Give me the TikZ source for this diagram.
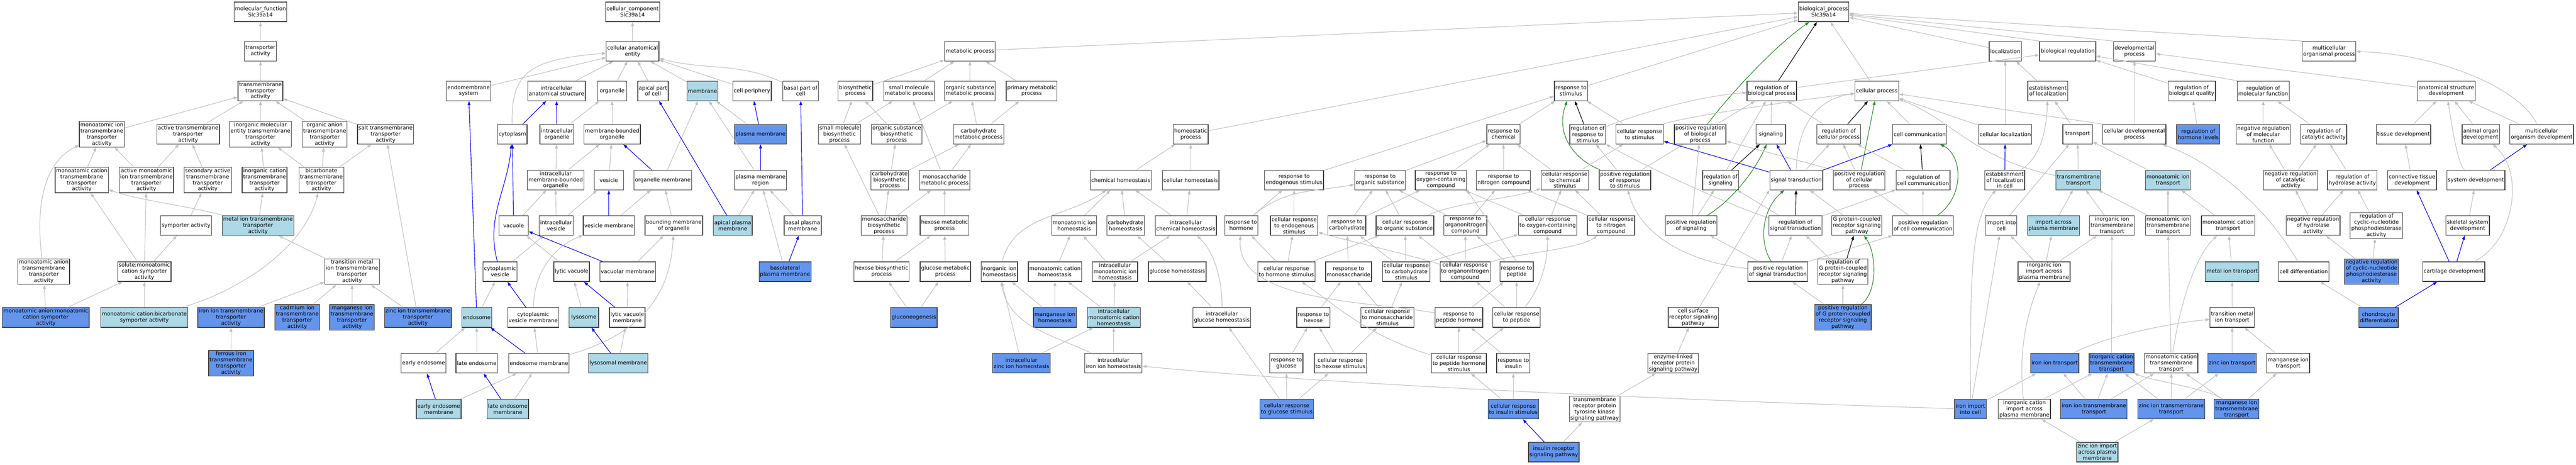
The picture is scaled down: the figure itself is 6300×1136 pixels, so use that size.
\documentclass[tikz,border=0pt]{standalone}
\usepackage{fontspec}
\setmainfont{DejaVu Sans}
\usetikzlibrary{arrows.meta}
\definecolor{hitblue}{RGB}{173,216,230}
\definecolor{directblue}{RGB}{100,149,237}
\definecolor{edgegray}{RGB}{192,192,192}
\definecolor{posgreen}{RGB}{34,139,34}
\newcommand{\gofont}{\fontsize{13}{15}\selectfont}
\tikzset{
    term/.style={draw=black!75, line width=1.6pt, fill=white, align=center, font=\gofont,
        inner xsep=2.5pt, inner ysep=2.5pt, minimum width=72pt, minimum height=48pt},
    hit/.style={term, fill=hitblue},
    direct/.style={term, fill=directblue},
    isa/.style={draw=edgegray, line width=1.4pt, -{Triangle[length=10pt,width=7pt]}},
    partof/.style={isa, draw=blue},
    regulates/.style={isa, draw=black},
    posreg/.style={isa, draw=posgreen}
}
\begin{document}
\begin{tikzpicture}[x=1pt,y=1pt]
    \path[fill=white] (0,0) rectangle (6300,-1136);
    \useasboundingbox (0,0) rectangle (6300,-1136);

    \node (mf)       at (637,-29)   [term] {molecular\_function\\Slc39a14};
    \node (ta)       at (637,-125)  [term] {transporter\\activity};
    \node (tta)      at (637,-222)  [term] {transmembrane\\transporter\\activity};
    \node (moita)    at (249,-328)  [term] {monoatomic ion\\transmembrane\\transporter\\activity};
    \node (acta)     at (460,-328)  [term] {active transmembrane\\transporter\\activity};
    \node (imeta)    at (637,-328)  [term] {inorganic molecular\\entity transmembrane\\transporter\\activity};
    \node (oata)     at (794,-328)  [term] {organic anion\\transmembrane\\transporter\\activity};
    \node (salta)    at (943,-328)  [term] {salt transmembrane\\transporter\\activity};
    \node (mocta)    at (200,-440)  [term] {monoatomic cation\\transmembrane\\transporter\\activity};
    \node (amita)    at (358,-440)  [term] {active monoatomic\\ion transmembrane\\transporter\\activity};
    \node (sata)     at (508,-440)  [term] {secondary active\\transmembrane\\transporter\\activity};
    \node (icta)     at (647,-440)  [term] {inorganic cation\\transmembrane\\transporter\\activity};
    \node (bicta)    at (786,-440)  [term] {bicarbonate\\transmembrane\\transporter\\activity};
    \node (sym)      at (455,-551)  [term] {symporter activity};
    \node (metta)    at (631,-551)  [hit] {metal ion transmembrane\\transporter\\activity};
    \node (moata)    at (107,-664)  [term] {monoatomic anion\\transmembrane\\transporter\\activity};
    \node (solsym)   at (353,-664)  [term] {solute:monoatomic\\cation symporter\\activity};
    \node (tmita)    at (861,-664)  [term] {transition metal\\ion transmembrane\\transporter\\activity};
    \node (anionsym) at (112,-776)  [direct] {monoatomic anion:monoatomic\\cation symporter\\activity};
    \node (bicsym)   at (353,-776)  [hit] {monoatomic cation:bicarbonate\\symporter activity};
    \node (irta)     at (565,-776)  [direct] {iron ion transmembrane\\transporter\\activity};
    \node (cdta)     at (727,-776)  [direct] {cadmium ion\\transmembrane\\transporter\\activity};
    \node (mnta)     at (861,-776)  [direct] {manganese ion\\transmembrane\\transporter\\activity};
    \node (znta)     at (1022,-776) [direct] {zinc ion transmembrane\\transporter\\activity};
    \node (feta)     at (565,-888)  [direct] {ferrous iron\\transmembrane\\transporter\\activity};

    \node (cc)     at (1547,-29)  [term] {cellular\_component\\Slc39a14};
    \node (cae)    at (1547,-125) [term] {cellular anatomical\\entity};
    \node (ems)    at (1146,-222) [term] {endomembrane\\system};
    \node (ias)    at (1361,-222) [term] {intracellular\\anatomical structure};
    \node (org)    at (1497,-222) [term] {organelle};
    \node (apc)    at (1597,-222) [term] {apical part\\of cell};
    \node (mem)    at (1718,-222) [hit] {membrane};
    \node (cper)   at (1839,-222) [term] {cell periphery};
    \node (bpc)    at (1958,-222) [term] {basal part of\\cell};
    \node (cyto)   at (1253,-328) [term] {cytoplasm};
    \node (iorg)   at (1362,-328) [term] {intracellular\\organelle};
    \node (mbo)    at (1497,-328) [term] {membrane-bounded\\organelle};
    \node (pm)     at (1860,-328) [direct] {plasma membrane};
    \node (imbo)   at (1359,-440) [term] {intracellular\\membrane-bounded\\organelle};
    \node (ves)    at (1489,-440) [term] {vesicle};
    \node (orgm)   at (1621,-440) [term] {organelle membrane};
    \node (pmr)    at (1860,-440) [term] {plasma membrane\\region};
    \node (vac)    at (1256,-551) [term] {vacuole};
    \node (ives)   at (1360,-551) [term] {intracellular\\vesicle};
    \node (vesm)   at (1489,-551) [term] {vesicle membrane};
    \node (bmo)    at (1648,-551) [term] {bounding membrane\\of organelle};
    \node (apm)    at (1792,-551) [hit] {apical plasma\\membrane};
    \node (bpm)    at (1963,-551) [term] {basal plasma\\membrane};
    \node (cves)   at (1223,-664) [term] {cytoplasmic\\vesicle};
    \node (lvac)   at (1398,-664) [term] {lytic vacuole};
    \node (vacm)   at (1535,-664) [term] {vacuolar membrane};
    \node (blpm)   at (1920,-664) [direct] {basolateral\\plasma membrane};
    \node (endo)   at (1166,-776) [hit] {endosome};
    \node (cvesm)  at (1304,-776) [term] {cytoplasmic\\vesicle membrane};
    \node (lyso)   at (1428,-776) [hit] {lysosome};
    \node (lvacm)  at (1534,-776) [term] {lytic vacuole\\membrane};
    \node (eendo)  at (1036,-888) [term] {early endosome};
    \node (lendo)  at (1166,-888) [term] {late endosome};
    \node (endom)  at (1318,-888) [term] {endosome membrane};
    \node (lysom)  at (1512,-888) [hit] {lysosomal membrane};
    \node (eendom) at (1073,-1000) [hit] {early endosome\\membrane};
    \node (lendom) at (1242,-1000) [hit] {late endosome\\membrane};

    \node (bp)     at (4460,-29)  [term] {biological\_process\\Slc39a14};
    \node (metp)   at (2372,-125) [term] {metabolic process};
    \node (loc)    at (4904,-125) [term] {localization};
    \node (breg)   at (5057,-125) [term] {biological regulation};
    \node (devp)   at (5220,-125) [term] {developmental\\process};
    \node (mop)    at (5696,-125) [term] {multicellular\\organismal process};

    \node (biop)   at (2092,-222) [term] {biosynthetic\\process};
    \node (smmp)   at (2223,-222) [term] {small molecule\\metabolic process};
    \node (osmp)   at (2372,-222) [term] {organic substance\\metabolic process};
    \node (pmp)    at (2523,-222) [term] {primary metabolic\\process};
    \node (rstim)  at (3842,-222) [term] {response to\\stimulus};
    \node (rbp)    at (4333,-222) [term] {regulation of\\biological process};
    \node (cp)     at (4590,-222) [term] {cellular process};
    \node (eloc)   at (5008,-222) [term] {establishment\\of localization};
    \node (rbq)    at (5360,-222) [term] {regulation of\\biological quality};
    \node (rmf)    at (5535,-222) [term] {regulation of\\molecular function};
    \node (asd)    at (5983,-222) [term] {anatomical structure\\development};

    \node (smbp)   at (2053,-328) [term] {small molecule\\biosynthetic\\process};
    \node (osbp)   at (2193,-328) [term] {organic substance\\biosynthetic\\process};
    \node (cmp)    at (2393,-328) [term] {carbohydrate\\metabolic process};
    \node (homp)   at (2912,-328) [term] {homeostatic\\process};
    \node (rchem)  at (3677,-328) [term] {response to\\chemical};
    \node (rrs)    at (3883,-328) [term] {regulation of\\response to\\stimulus};
    \node (crs)    at (4010,-328) [term] {cellular response\\to stimulus};
    \node (prbp)   at (4158,-328) [term] {positive regulation\\of biological\\process};
    \node (sig)    at (4331,-328) [term] {signaling};
    \node (rcp)    at (4497,-328) [term] {regulation of\\cellular process};
    \node (ccom)   at (4695,-328) [term] {cell communication};
    \node (cloc)   at (4904,-328) [term] {cellular localization};
    \node (trans)  at (5081,-328) [term] {transport};
    \node (cdp)    at (5220,-328) [term] {cellular developmental\\process};
    \node (rhl)    at (5376,-328) [direct] {regulation of\\hormone levels};
    \node (nrmf)   at (5535,-328) [term] {negative regulation\\of molecular\\function};
    \node (rca)    at (5683,-328) [term] {regulation of\\catalytic activity};
    \node (tdev)   at (5878,-328) [term] {tissue development};
    \node (aod)    at (6067,-328) [term] {animal organ\\development};
    \node (mod)    at (6216,-328) [term] {multicellular\\organism development};

    \node (cbp)    at (2176,-440) [term] {carbohydrate\\biosynthetic\\process};
    \node (msmp)   at (2310,-440) [term] {monosaccharide\\metabolic process};
    \node (chom)   at (2741,-440) [term] {chemical homeostasis};
    \node (chomc)  at (2912,-440) [term] {cellular homeostasis};
    \node (res)    at (3165,-440) [term] {response to\\endogenous stimulus};
    \node (ros)    at (3375,-440) [term] {response to\\organic substance};
    \node (roc)    at (3524,-440) [term] {response to\\oxygen-containing\\compound};
    \node (rnc)    at (3677,-440) [term] {response to\\nitrogen compound};
    \node (crcs)   at (3827,-440) [term] {cellular response\\to chemical\\stimulus};
    \node (prrs)   at (3974,-440) [term] {positive regulation\\of response\\to stimulus};
    \node (rsig)   at (4208,-440) [term] {regulation of\\signaling};
    \node (st)     at (4393,-440) [term] {signal transduction};
    \node (prcp)   at (4547,-440) [term] {positive regulation\\of cellular\\process};
    \node (rcc)    at (4703,-440) [term] {regulation of\\cell communication};
    \node (elc)    at (4903,-440) [term] {establishment\\of localization\\in cell};
    \node (tmt)    at (5083,-440) [hit] {transmembrane\\transport};
    \node (moit)   at (5302,-440) [hit] {monoatomic ion\\transport};
    \node (nrca)   at (5602,-440) [term] {negative regulation\\of catalytic\\activity};
    \node (rha)    at (5753,-440) [term] {regulation of\\hydrolase activity};
    \node (ctd)    at (5899,-440) [term] {connective tissue\\development};
    \node (sdev)   at (6055,-440) [term] {system development};

    \node (msbp)   at (2162,-551) [term] {monosaccharide\\biosynthetic\\process};
    \node (hmp)    at (2310,-551) [term] {hexose metabolic\\process};
    \node (mih)    at (2627,-551) [term] {monoatomic ion\\homeostasis};
    \node (chh)    at (2753,-551) [term] {carbohydrate\\homeostasis};
    \node (ichh)   at (2900,-551) [term] {intracellular\\chemical homeostasis};
    \node (rhor)   at (3036,-551) [term] {response to\\hormone};
    \node (cres)   at (3165,-551) [term] {cellular response\\to endogenous\\stimulus};
    \node (rcarb)  at (3294,-551) [term] {response to\\carbohydrate};
    \node (cros)   at (3436,-551) [term] {cellular response\\to organic substance};
    \node (ronc)   at (3584,-551) [term] {response to\\organonitrogen\\compound};
    \node (croc)   at (3785,-551) [term] {cellular response\\to oxygen-containing\\compound};
    \node (crnc)   at (3940,-551) [term] {cellular response\\to nitrogen\\compound};
    \node (prsig)  at (4136,-551) [term] {positive regulation\\of signaling};
    \node (rst)    at (4391,-551) [term] {regulation of\\signal transduction};
    \node (gpcr)   at (4541,-551) [term] {G protein-coupled\\receptor signaling\\pathway};
    \node (prcc)   at (4703,-551) [term] {positive regulation\\of cell communication};
    \node (iic)    at (4894,-551) [term] {import into\\cell};
    \node (iapm)   at (5022,-551) [hit] {import across\\plasma membrane};
    \node (iitt)   at (5165,-551) [term] {inorganic ion\\transmembrane\\transport};
    \node (moitt)  at (5302,-551) [term] {monoatomic ion\\transmembrane\\transport};
    \node (mct)    at (5449,-551) [term] {monoatomic cation\\transport};
    \node (nrha)   at (5657,-551) [term] {negative regulation\\of hydrolase\\activity};
    \node (rcpde)  at (5812,-551) [term] {regulation of\\cyclic-nucleotide\\phosphodiesterase\\activity};
    \node (ssd)    at (6035,-551) [term] {skeletal system\\development};

    \node (hbp)    at (2156,-664) [term] {hexose biosynthetic\\process};
    \node (gmp)    at (2312,-664) [term] {glucose metabolic\\process};
    \node (iih)    at (2444,-664) [term] {inorganic ion\\homeostasis};
    \node (mch)    at (2580,-664) [term] {monoatomic cation\\homeostasis};
    \node (imih)   at (2727,-664) [term] {intracellular\\monoatomic ion\\homeostasis};
    \node (gh)     at (2879,-664) [term] {glucose homeostasis};
    \node (crhs)   at (3146,-664) [term] {cellular response\\to hormone stimulus};
    \node (rmono)  at (3298,-664) [term] {response to\\monosaccharide};
    \node (crcarb) at (3439,-664) [term] {cellular response\\to carbohydrate\\stimulus};
    \node (cronc)  at (3583,-664) [term] {cellular response\\to organonitrogen\\compound};
    \node (rpep)   at (3709,-664) [term] {response to\\peptide};
    \node (prst)   at (4348,-664) [term] {positive regulation\\of signal transduction};
    \node (rgpcr)  at (4507,-664) [term] {regulation of\\G protein-coupled\\receptor signaling\\pathway};
    \node (iiapm)  at (4999,-664) [term] {inorganic ion\\import across\\plasma membrane};
    \node (mit)    at (5459,-664) [hit] {metal ion transport};
    \node (cdiff)  at (5634,-664) [term] {cell differentiation};
    \node (nrcpde) at (5800,-664) [direct] {negative regulation\\of cyclic-nucleotide\\phosphodiesterase\\activity};
    \node (cartd)  at (6001,-664) [term] {cartilage development};

    \node (gng)    at (2235,-776) [direct] {gluconeogenesis};
    \node (mnh)    at (2580,-776) [direct] {manganese ion\\homeostasis};
    \node (imch)   at (2724,-776) [hit] {intracellular\\monoatomic cation\\homeostasis};
    \node (igh)    at (2988,-776) [term] {intracellular\\glucose homeostasis};
    \node (rhex)   at (3212,-776) [term] {response to\\hexose};
    \node (crms)   at (3393,-776) [term] {cellular response\\to monosaccharide\\stimulus};
    \node (rph)    at (3568,-776) [term] {response to\\peptide hormone};
    \node (crpep)  at (3709,-776) [term] {cellular response\\to peptide};
    \node (csrs)   at (4141,-776) [term] {cell surface\\receptor signaling\\pathway};
    \node (prgpcr) at (4507,-776) [direct] {positive regulation\\of G protein-coupled\\receptor signaling\\pathway};
    \node (tmit)   at (5459,-776) [term] {transition metal\\ion transport};
    \node (chd)    at (5817,-776) [direct] {chondrocyte\\differentiation};

    \node (izh)    at (2498,-888) [direct] {intracellular\\zinc ion homeostasis};
    \node (ifh)    at (2723,-888) [term] {intracellular\\iron ion homeostasis};
    \node (rglc)   at (3146,-888) [term] {response to\\glucose};
    \node (crhex)  at (3278,-888) [term] {cellular response\\to hexose stimulus};
    \node (crphs)  at (3568,-888) [term] {cellular response\\to peptide hormone\\stimulus};
    \node (rins)   at (3701,-888) [term] {response to\\insulin};
    \node (elrp)   at (4092,-888) [term] {enzyme-linked\\receptor protein\\signaling pathway};
    \node (fet)    at (5025,-888) [direct] {iron ion transport};
    \node (ictt)   at (5164,-888) [direct] {inorganic cation\\transmembrane\\transport};
    \node (mctt)   at (5310,-888) [term] {monoatomic cation\\transmembrane\\transport};
    \node (znt)    at (5459,-888) [direct] {zinc ion transport};
    \node (mnt)    at (5596,-888) [term] {manganese ion\\transport};

    \node (crglc)  at (3147,-1000) [direct] {cellular response\\to glucose stimulus};
    \node (crins)  at (3701,-1000) [direct] {cellular response\\to insulin stimulus};
    \node (rptk)   at (3900,-1000) [term] {transmembrane\\receptor protein\\tyrosine kinase\\signaling pathway};
    \node (fei)    at (4819,-1000) [direct] {iron import\\into cell};
    \node (iciapm) at (4951,-1000) [term] {inorganic cation\\import across\\plasma membrane};
    \node (fett)   at (5121,-1000) [direct] {iron ion transmembrane\\transport};
    \node (zntt)   at (5310,-1000) [direct] {zinc ion transmembrane\\transport};
    \node (mntt)   at (5470,-1000) [direct] {manganese ion\\transmembrane\\transport};
    \node (irsp)   at (3800,-1105) [direct] {insulin receptor\\signaling pathway};
    \node (zniapm) at (5129,-1105) [hit] {zinc ion import\\across plasma\\membrane};

    \draw[isa] (ta) -- (mf);
    \draw[isa] (tta) -- (ta);
    \draw[isa] (moita) -- (tta);
    \draw[isa] (acta) -- (tta);
    \draw[isa] (imeta) -- (tta);
    \draw[isa] (oata) -- (tta);
    \draw[isa] (salta) -- (tta);
    \draw[isa] (mocta) -- (moita);
    \draw[isa] (amita) -- (moita);
    \draw[isa] (amita) -- (acta);
    \draw[isa] (sata) -- (acta);
    \draw[isa] (icta) -- (imeta);
    \draw[isa] (bicta) -- (imeta);
    \draw[isa] (bicta) -- (oata);
    \draw[isa] (bicta) -- (salta);
    \draw[isa] (sym) -- (sata);
    \draw[isa] (metta) .. controls (470,-505) and (340,-490) .. (mocta);
    \draw[isa] (metta) -- (icta);
    \draw[isa] (moata) .. controls (88,-520) and (100,-400) .. (moita);
    \draw[isa] (solsym) -- (mocta);
    \draw[isa] (solsym) -- (amita);
    \draw[isa] (solsym) -- (sym);
    \draw[isa] (tmita) -- (metta);
    \draw[isa] (anionsym) -- (moata);
    \draw[isa] (anionsym) -- (solsym);
    \draw[isa] (bicsym) -- (solsym);
    \draw[isa] (bicsym) .. controls (560,-720) and (740,-620) .. (bicta);
    \draw[isa] (irta) -- (tmita);
    \draw[isa] (cdta) -- (tmita);
    \draw[isa] (mnta) -- (tmita);
    \draw[isa] (znta) -- (tmita);
    \draw[isa] (znta) -- (salta);
    \draw[isa] (feta) -- (irta);

    \draw[isa] (cae) -- (cc);
    \draw[isa] (ems) -- (cae);
    \draw[isa] (cyto) .. controls (1250,-180) and (1290,-145) .. (cae);
    \draw[isa] (ias) -- (cae);
    \draw[isa] (org) -- (cae);
    \draw[isa] (apc) -- (cae);
    \draw[isa] (mem) -- (cae);
    \draw[isa] (cper) -- (cae);
    \draw[isa] (bpc) to[out=155,in=-15] (cae);
    \draw[partof] (cyto) -- (ias);
    \draw[partof] (iorg) -- (ias);
    \draw[isa] (iorg) -- (org);
    \draw[isa] (mbo) -- (org);
    \draw[isa] (pm) -- (mem);
    \draw[partof] (pm) -- (cper);
    \draw[isa] (imbo) -- (iorg);
    \draw[isa] (imbo) -- (mbo);
    \draw[isa] (ves) -- (mbo);
    \draw[partof] (orgm) -- (mbo);
    \draw[isa] (orgm) -- (mem);
    \draw[isa] (pmr) -- (mem);
    \draw[partof] (pmr) -- (pm);
    \draw[partof] (vac) -- (cyto);
    \draw[isa] (vac) -- (imbo);
    \draw[isa] (ives) -- (imbo);
    \draw[isa] (ives) -- (ves);
    \draw[partof] (vesm) -- (ves);
    \draw[isa] (vesm) -- (orgm);
    \draw[isa] (bmo) -- (orgm);
    \draw[partof] (apm) -- (apc);
    \draw[isa] (apm) -- (pmr);
    \draw[isa] (bpm) -- (pmr);
    \draw[partof] (bpm) -- (bpc);
    \draw[isa] (blpm) -- (pmr);
    \draw[partof] (blpm) -- (bpm);
    \draw[partof] (endo) -- (ems);
    \draw[partof] (cves) to[out=105,in=265] (cyto);
    \draw[isa] (cves) -- (ives);
    \draw[isa] (lvac) -- (vac);
    \draw[partof] (vacm) -- (vac);
    \draw[isa] (vacm) -- (bmo);
    \draw[isa] (cvesm) .. controls (1306,-660) and (1360,-600) .. (vesm);
    \draw[isa] (endom) .. controls (1590,-810) and (1640,-700) .. (bmo);
    \draw[isa] (endo) -- (cves);
    \draw[partof] (cvesm) -- (cves);
    \draw[isa] (lyso) -- (lvac);
    \draw[partof] (lvacm) -- (lvac);
    \draw[isa] (lvacm) -- (vacm);
    \draw[isa] (eendo) -- (endo);
    \draw[isa] (lendo) -- (endo);
    \draw[partof] (endom) -- (endo);
    \draw[isa] (endom) -- (cvesm);
    \draw[partof] (lysom) -- (lyso);
    \draw[isa] (lysom) -- (lvacm);
    \draw[partof] (eendom) -- (eendo);
    \draw[isa] (eendom) -- (endom);
    \draw[partof] (lendom) -- (lendo);
    \draw[isa] (lendom) -- (endom);

    \draw[isa] (metp) -- (bp);
    \draw[isa] (homp) -- (bp);
    \draw[isa] (rstim) -- (bp);
    \draw[regulates] (rbp) -- (bp);
    \draw[posreg] (prbp) .. controls (4215,-250) and (4330,-120) .. (bp);
    \draw[isa] (cp) -- (bp);
    \draw[isa] (loc) -- (bp);
    \draw[isa] (breg.north west) -- (bp);
    \draw[isa] (devp.north west) -- (bp);
    \draw[isa] (mop.north west) -- (bp);

    \draw[isa] (biop) -- (metp);
    \draw[isa] (smmp) -- (metp);
    \draw[isa] (osmp) -- (metp);
    \draw[isa] (pmp) -- (metp);
    \draw[isa] (smbp) -- (biop);
    \draw[isa] (smbp) -- (smmp);
    \draw[isa] (osbp) -- (biop);
    \draw[isa] (osbp) -- (osmp);
    \draw[isa] (cmp) -- (osmp);
    \draw[isa] (cmp) -- (pmp);
    \draw[isa] (cbp) -- (osbp);
    \draw[isa] (cbp) -- (cmp);
    \draw[isa] (msmp) -- (cmp);
    \draw[isa] (msmp) -- (smmp);
    \draw[isa] (msbp) -- (cbp);
    \draw[isa] (msbp) -- (msmp);
    \draw[isa] (msbp) -- (smbp);
    \draw[isa] (hmp) -- (msmp);
    \draw[isa] (hbp) -- (msbp);
    \draw[isa] (hbp) -- (hmp);
    \draw[isa] (gmp) -- (hmp);
    \draw[isa] (gng) -- (hbp);
    \draw[isa] (gng) -- (gmp);

    \draw[isa] (chom) -- (homp);
    \draw[isa] (chomc) -- (homp);
    \draw[isa] (mih) -- (chom);
    \draw[isa] (chh) -- (chom);
    \draw[isa] (ichh) -- (chom);
    \draw[isa] (ichh) -- (chomc);
    \draw[isa] (iih) to[out=75,in=215] (chom);
    \draw[isa] (mch) -- (mih);
    \draw[isa] (imih) -- (mih);
    \draw[isa] (imih) -- (ichh);
    \draw[isa] (gh) -- (chh);
    \draw[isa] (igh) -- (gh);
    \draw[isa] (igh) .. controls (2990,-700) and (2975,-620) .. (ichh);
    \draw[isa] (mnh) -- (iih);
    \draw[isa] (mnh) -- (mch);
    \draw[isa] (imch) -- (mch);
    \draw[isa] (imch) -- (imih);
    \draw[isa] (izh) -- (iih);
    \draw[isa] (izh) -- (imch);
    \draw[isa] (ifh) to[out=155,in=-80] (iih);
    \draw[isa] (ifh) -- (imch);
    \draw[isa] (fei) .. controls (4000,-975) and (3200,-935) .. (ifh);
    \draw[isa] (crglc) -- (igh);
    \draw[isa] (crglc) -- (rglc);

    \draw[isa] (res) -- (rstim);
    \draw[isa] (rchem) -- (rstim);
    \draw[regulates] (rrs) -- (rstim);
    \draw[posreg] (prrs) .. controls (3840,-385) and (3805,-320) .. (rstim);
    \draw[isa] (crs) -- (rstim);
    \draw[isa] (rrs) .. controls (4000,-280) and (4150,-235) .. (rbp);
    \draw[isa] (crs) .. controls (4100,-290) and (4350,-250) .. (cp);
    \draw[isa] (prbp) -- (rbp);
    \draw[isa] (rhor) -- (res);
    \draw[isa] (rhor) to[out=40,in=190] (ros);
    \draw[isa] (cres) -- (res);
    \draw[isa] (ros) -- (rchem);
    \draw[isa] (roc) -- (rchem);
    \draw[isa] (rnc) -- (rchem);
    \draw[isa] (crcs) -- (rchem);
    \draw[isa] (crcs) -- (crs);
    \draw[isa] (prrs) -- (rrs);
    \draw[isa] (prrs) -- (prbp);
    \draw[partof] (st) -- (crs);
    \draw[isa] (rst) .. controls (4250,-510) and (4050,-420) .. (rrs);
    \draw[isa] (prsig) -- (prbp);
    \draw[isa] (prsig) -- (rsig);
    \draw[posreg] (prsig) .. controls (4250,-480) and (4300,-400) .. (sig);
    \draw[isa] (rcarb) -- (ros);
    \draw[isa] (rcarb) -- (roc);
    \draw[isa] (cros) -- (ros);
    \draw[isa] (cros) .. controls (3560,-495) and (3700,-485) .. (crcs);
    \draw[isa] (ronc) -- (ros);
    \draw[isa] (ronc) -- (rnc);
    \draw[isa] (croc) -- (roc);
    \draw[isa] (croc) -- (crcs);
    \draw[isa] (crnc) -- (rnc);
    \draw[isa] (crnc) -- (crcs);
    \draw[isa] (rpep) -- (ronc);
    \draw[isa] (rpep.north) -- (roc.south east);
    \draw[isa] (prst) .. controls (4120,-640) and (4010,-570) .. (prrs);
    \draw[isa] (crhs) -- (rhor);
    \draw[isa] (crhs) -- (cres);
    \draw[isa] (crhs) -- (cros);
    \draw[isa] (rph) .. controls (3350,-735) and (3020,-740) .. (rhor);
    \draw[isa] (rmono) -- (rcarb);
    \draw[isa] (crcarb) -- (rcarb);
    \draw[isa] (crcarb) -- (cros);
    \draw[isa] (crcarb.north east) -- (croc);
    \draw[isa] (cronc) -- (cros);
    \draw[isa] (cronc) -- (ronc);
    \draw[isa] (cronc) .. controls (3700,-620) and (3860,-610) .. (crnc);
    \draw[isa] (cronc) .. controls (3400,-610) and (3300,-590) .. (cres);
    \draw[isa] (rhex) -- (rmono);
    \draw[isa] (crms) -- (rmono);
    \draw[isa] (crms) -- (crcarb);
    \draw[isa] (rph) -- (rpep);
    \draw[isa] (crpep) -- (cronc);
    \draw[isa] (crpep) -- (rpep);
    \draw[isa] (crpep) .. controls (3770,-700) and (3785,-640) .. (croc);
    \draw[isa] (crhex) -- (rhex);
    \draw[isa] (crhex) -- (crms);
    \draw[isa] (crphs) -- (rph);
    \draw[isa] (crphs) -- (crpep);
    \draw[isa] (crphs) .. controls (3340,-820) and (3260,-740) .. (crhs);
    \draw[isa] (rins) -- (rph);
    \draw[isa] (rglc) -- (rhex);
    \draw[isa] (crglc) -- (crhex);
    \draw[isa] (crins) -- (crphs);
    \draw[isa] (crins) -- (rins);
    \draw[partof] (irsp) -- (crins);
    \draw[isa] (irsp) -- (rptk);
    \draw[isa] (rptk) -- (elrp);
    \draw[isa] (elrp) -- (csrs);
    \draw[isa] (csrs) -- (st.south west);

    \draw[isa] (rbp) -- (breg);
    \draw[isa] (eloc) -- (loc);
    \draw[isa] (cloc) -- (loc);
    \draw[isa] (rcp) -- (rbp);
    \draw[regulates] (rcp) -- (cp);
    \draw[isa] (sig) -- (rbp);
    \draw[isa] (rsig) -- (rbp);
    \draw[isa] (ccom) -- (cp);
    \draw[isa] (cloc) -- (cp);
    \draw[isa] (cdp.north west) -- (cp);
    \draw[isa] (tmt) .. controls (4830,-390) and (4770,-290) .. (cp);
    \draw[posreg] (prcp) -- (cp);
    \draw[isa] (prcp) -- (rcp);
    \draw[isa] (prcp.north west) -- (prbp);
    \draw[partof] (st) -- (sig);
    \draw[regulates] (rsig) -- (sig);
    \draw[partof] (st) -- (ccom);
    \draw[isa] (st) .. controls (4395,-300) and (4450,-240) .. (cp);
    \draw[isa] (st) -- (rcp);
    \draw[isa] (rcc) -- (rcp);
    \draw[regulates] (rcc) -- (ccom);
    \draw[posreg] (prcc) .. controls (4805,-480) and (4800,-380) .. (ccom);
    \draw[isa] (prcc) -- (prcp);
    \draw[isa] (prcc) -- (rcc);
    \draw[partof] (elc) -- (cloc);
    \draw[isa] (elc) .. controls (4990,-385) and (5005,-320) .. (eloc);
    \draw[isa] (trans) -- (eloc);
    \draw[isa] (cdp) -- (devp);
    \draw[isa] (tmt) -- (trans);
    \draw[isa] (moit) -- (trans);
    \draw[regulates] (rst) -- (st);
    \draw[isa] (rst) -- (rsig);
    \draw[isa] (rst) -- (rcc);
    \draw[isa] (gpcr) -- (st);
    \draw[posreg] (prst) .. controls (4300,-590) and (4310,-510) .. (st);
    \draw[isa] (prst) -- (prsig);
    \draw[isa] (prst) -- (rst);
    \draw[isa] (prst.north east) -- (prcc.south west);
    \draw[regulates] (rgpcr) -- (gpcr);
    \draw[isa] (rgpcr) -- (rst);
    \draw[isa] (prgpcr) -- (prst);
    \draw[isa] (prgpcr) -- (rgpcr);
    \draw[posreg] (prgpcr) .. controls (4592,-715) and (4590,-620) .. (gpcr);

    \draw[isa] (fei) .. controls (4820,-700) and (4815,-540) .. (elc);
    \draw[isa] (fei) -- (iic);
    \draw[isa] (fei) -- (fet);
    \draw[isa] (iic) -- (trans);
    \draw[isa] (iapm) -- (tmt);
    \draw[isa] (iitt) -- (tmt);
    \draw[isa] (moitt) -- (tmt);
    \draw[isa] (iiapm) -- (iic);
    \draw[isa] (iiapm) -- (iapm);
    \draw[isa] (iiapm) -- (iitt);
    \draw[isa] (iciapm) .. controls (4935,-850) and (4960,-760) .. (iiapm);
    \draw[isa] (iciapm) -- (ictt);
    \draw[isa] (fett) -- (fet);
    \draw[isa] (fett) -- (ictt);
    \draw[isa] (fett) -- (mctt);
    \draw[isa] (zntt) -- (ictt);
    \draw[isa] (mntt) .. controls (5400,-950) and (5260,-930) .. (ictt);
    \draw[isa] (zniapm) -- (iciapm);
    \draw[isa] (zniapm) -- (zntt);
    \draw[isa] (ictt) -- (iitt);
    \draw[isa] (fet) .. controls (5140,-825) and (5300,-790) .. (tmit);

    \draw[isa] (rbq) -- (breg);
    \draw[isa] (rmf.north west) -- (breg);
    \draw[isa] (asd) -- (devp);
    \draw[isa] (mod) .. controls (6160,-210) and (5950,-130) .. (mop);
    \draw[isa] (mod) -- (asd);
    \draw[isa] (rhl) -- (rbq);
    \draw[isa] (nrmf) -- (rmf);
    \draw[isa] (rca) -- (rmf);
    \draw[isa] (tdev) -- (asd);
    \draw[isa] (aod) -- (asd);
    \draw[isa] (sdev) .. controls (6010,-400) and (5995,-300) .. (asd);
    \draw[partof] (sdev) -- (mod);
    \draw[isa] (ctd) -- (tdev);
    \draw[isa] (nrca) -- (nrmf);
    \draw[isa] (nrca) -- (rca);
    \draw[isa] (rha) -- (rca);
    \draw[isa] (cdiff) .. controls (5545,-510) and (5420,-400) .. (cdp);
    \draw[isa] (moitt) -- (moit);
    \draw[isa] (mct) -- (moit);
    \draw[isa] (nrha) -- (nrca);
    \draw[isa] (nrha) -- (rha);
    \draw[isa] (rcpde) -- (rha);
    \draw[isa] (ssd) -- (sdev);
    \draw[partof] (cartd) -- (ctd);
    \draw[isa] (cartd) .. controls (6150,-590) and (6175,-420) .. (aod);
    \draw[partof] (cartd) -- (ssd);
    \draw[isa] (mit) -- (mct);
    \draw[isa] (mctt) -- (moitt);
    \draw[isa] (mctt) .. controls (5335,-720) and (5375,-620) .. (mct);
    \draw[isa] (tmit) -- (mit);
    \draw[isa] (znt) -- (tmit);
    \draw[isa] (mnt) -- (tmit);
    \draw[isa] (nrcpde) -- (nrha);
    \draw[isa] (nrcpde) -- (rcpde);
    \draw[isa] (chd) -- (cdiff);
    \draw[partof] (chd) -- (cartd);
    \draw[isa] (zntt) -- (mctt);
    \draw[isa] (zntt) -- (znt);
    \draw[isa] (mntt) -- (mnt);
    \draw[isa] (mntt) -- (mctt);
\end{tikzpicture}
\end{document}
